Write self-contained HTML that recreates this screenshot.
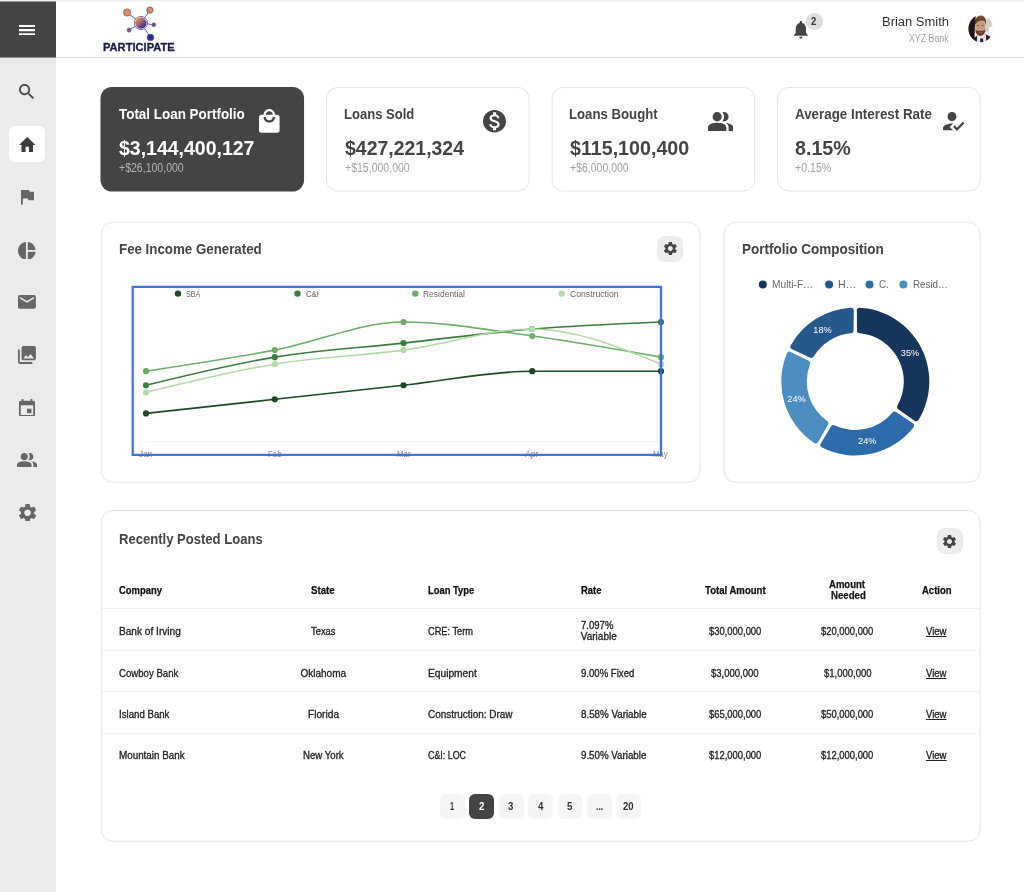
<!DOCTYPE html>
<html lang="en">
<head>
<meta charset="utf-8">
<title>Participate – Dashboard</title>
<style>
*{box-sizing:border-box;margin:0;padding:0}
html,body{width:1024px;height:892px;overflow:hidden;background:#fff}
body{position:relative;font-family:"Liberation Sans",sans-serif;color:#222}
#app{position:absolute;left:0;top:0;width:1024px;height:892px;will-change:transform}
.abs{position:absolute}
.t{position:absolute;white-space:pre;line-height:20px;transform-origin:0 0;font-family:"Liberation Sans",sans-serif}
.topstrip{position:absolute;left:0;top:0;width:1024px;height:1px;background:#eeeff1}
.topstrip.b{top:1px;opacity:.5}
.sidebar{position:absolute;left:0;top:0;width:56px;height:892px;background:#ebebeb}
.burger{position:absolute;left:0;top:0;width:56px;height:57px;background:#444}
.burger:after{content:"";position:absolute;left:0;top:57px;width:56px;height:1px;background:#444;opacity:.55}
.navactive{position:absolute;left:9.2px;top:126px;width:36.2px;height:36.2px;border-radius:6px;background:#fff}
.header{position:absolute;left:56px;top:2px;width:968px;height:56px;background:#fff;border-bottom:1px solid #e4e4e4}
.card{position:absolute;border-radius:12px}
.stat{top:87px;width:204px;height:104.5px;border-radius:11px}
.gearbtn{position:absolute;width:26px;height:26px;border-radius:8px;background:#ececec}
.hr{position:absolute;left:102px;width:878px;height:1px;background:#efefef}
.pg{position:absolute;top:794px;width:24.8px;height:25.4px;border-radius:6px;background:#f5f5f5}
.pg.on{background:#444}
</style>
</head>
<body>
<div id="app">
<!-- ============ sidebar ============ -->
<aside class="sidebar">
  <div class="burger"></div>
  <div class="navactive"></div>
  <svg class="abs ic" style="left:19.40px;top:24.75px;fill:#fff" width="16.00" height="10.25" viewBox="3.000 6.000 18.000 12.000" preserveAspectRatio="none"><path d="M3 6h18v2.400H3zM3 10.800h18v2.400H3zM3 15.600h18v2.400H3z"/></svg>
  <svg class="abs ic" style="left:19.40px;top:84.00px;fill:#444" width="15.00" height="15.00" viewBox="3.000 3.000 17.490 17.490" preserveAspectRatio="none"><path d="M15.5 14h-.79l-.28-.27C15.41 12.59 16 11.11 16 9.5 16 5.91 13.09 3 9.5 3S3 5.91 3 9.5 5.91 16 9.5 16c1.61 0 3.09-.59 4.23-1.57l.27.28v.79l5 4.99L20.49 19l-4.99-5zm-6 0C7.01 14 5 11.99 5 9.5S7.01 5 9.5 5 14 7.01 14 9.5 11.99 14 9.5 14z"/></svg>
  <svg class="abs ic" style="left:18.80px;top:136.90px;fill:#3c3c3c" width="16.50" height="15.10" viewBox="2.000 3.000 20.000 17.000" preserveAspectRatio="none"><path d="M10 20v-6h4v6h5v-8h3L12 3 2 12h3v8z"/></svg>
  <svg class="abs ic" style="left:20.60px;top:190.20px;fill:#666" width="13.70" height="14.60" viewBox="5.000 4.000 15.000 17.000" preserveAspectRatio="none"><path d="M14.4 6L14 4H5v17h2v-7h5.6l.4 2h7V6z"/></svg>
  <svg class="abs ic" style="left:18.10px;top:241.60px;fill:#666" width="17.70" height="17.70" viewBox="2.000 2.000 20.000 20.000" preserveAspectRatio="none"><path d="M11 2v20c-5.07-.5-9-4.79-9-10s3.93-9.5 9-10zm2.03 0v8.990H22c-.47-4.740-4.240-8.520-8.970-8.990zm0 11.010V22c4.740-.47 8.500-4.250 8.970-8.990h-8.970z"/></svg>
  <svg class="abs ic" style="left:18.10px;top:295.20px;fill:#666" width="17.90" height="13.80" viewBox="2.000 4.000 20.000 16.000" preserveAspectRatio="none"><path d="M20 4H4c-1.1 0-1.99.9-1.99 2L2 18c0 1.1.9 2 2 2h16c1.1 0 2-.9 2-2V6c0-1.1-.9-2-2-2zm0 4l-8 5-8-5V6l8 5 8-5v2z"/></svg>
  <svg class="abs ic" style="left:18.10px;top:345.90px;fill:#666" width="17.90" height="17.90" viewBox="2.000 2.000 20.000 20.000" preserveAspectRatio="none"><path d="M22 16V4c0-1.1-.9-2-2-2H8c-1.1 0-2 .9-2 2v12c0 1.1.9 2 2 2h12c1.1 0 2-.9 2-2zm-11-4l2.030 2.710L16 11l4 5H8l3-4zM2 6v14c0 1.1.9 2 2 2h14v-2H4V6H2z"/></svg>
  <svg class="abs ic" style="left:19.10px;top:398.60px;fill:#666" width="16.00" height="17.70" viewBox="3.000 1.000 18.000 20.000" preserveAspectRatio="none"><path d="M17 12h-5v5h5v-5zM16 1v2H8V1H6v2H5c-1.110 0-1.990.9-1.990 2L3 19c0 1.100.89 2 2 2h14c1.100 0 2-.9 2-2V5c0-1.100-.9-2-2-2h-1V1h-2zm3 18H5V8h14v11z"/></svg>
  <svg class="abs ic" style="left:17.10px;top:452.60px;fill:#666" width="20.00" height="14.50" viewBox="40.000 -800.000 880.000 640.000" preserveAspectRatio="none"><path d="M40-160v-112q0-34 17.500-62.500T104-378q62-31 126-46.500T360-440q66 0 130 15.500T616-378q29 15 46.500 43.500T680-272v112H40Zm720 0v-120q0-44-24.500-84.500T666-434q51 6 96 20.500t84 35.500q36 20 55 44.500t19 53.500v120H760ZM360-480q-66 0-113-47t-47-113q0-66 47-113t113-47q66 0 113 47t47 113q0 66-47 113t-113 47Zm400-160q0 66-47 113t-113 47q-11 0-28-2.500t-28-5.500q27-32 41.500-71t14.500-81q0-42-14.500-81T544-792q14-5 28-6.500t28-1.500q66 0 113 47t47 113Z"/></svg>
  <svg class="abs ic" style="left:18.90px;top:503.60px;fill:#666" width="17.20" height="17.70" viewBox="2.662 2.400 18.676 19.200" preserveAspectRatio="none"><path d="M19.14 12.94c.04-.3.06-.61.06-.94 0-.32-.02-.64-.07-.94l2.030-1.580c.18-.14.23-.41.12-.61l-1.920-3.320c-.12-.22-.37-.29-.59-.22l-2.390.96c-.5-.38-1.030-.7-1.620-.94l-.36-2.540c-.04-.24-.24-.41-.48-.41h-3.840c-.24 0-.43.17-.47.41l-.36 2.540c-.59.24-1.130.57-1.620.94l-2.390-.96c-.22-.08-.47 0-.59.22L2.740 8.870c-.12.21-.08.47.12.61l2.030 1.580c-.05.3-.09.63-.09.94s.02.64.07.94l-2.030 1.580c-.18.14-.23.41-.12.61l1.920 3.320c.12.22.37.29.59.22l2.390-.96c.5.38 1.030.7 1.620.94l.36 2.540c.05.24.24.41.48.41h3.840c.24 0 .44-.17.47-.41l.36-2.540c.59-.24 1.130-.56 1.620-.94l2.390.96c.22.08.47 0 .59-.22l1.920-3.320c.12-.22.07-.47-.12-.61l-2.010-1.580zM12 15.600c-1.980 0-3.600-1.620-3.600-3.600s1.620-3.600 3.600-3.600 3.600 1.620 3.600 3.600-1.620 3.600-3.600 3.600z"/></svg>
</aside>
<div class="topstrip"></div><div class="topstrip b"></div>

<!-- ============ header ============ -->
<header class="header"></header>
<svg class="abs" style="left:120px;top:4px" width="40" height="40" viewBox="120 4 40 40">
  <defs>
    <linearGradient id="lg1" x1="0.15" y1="0.1" x2="0.85" y2="0.9"><stop offset="0" stop-color="#e39452"/><stop offset=".45" stop-color="#a5617a"/><stop offset="1" stop-color="#23238c"/></linearGradient>
  </defs>
  <g stroke="#3b3a78" stroke-width=".8" fill="none">
    <line x1="140.900" y1="23" x2="127.100" y2="12.500"/><line x1="140.900" y1="23" x2="149.900" y2="10.100"/>
    <line x1="140.900" y1="23" x2="153.750" y2="24.750"/><line x1="140.900" y1="23" x2="129.100" y2="30.100"/>
    <line x1="140.900" y1="23" x2="150.500" y2="37.500"/>
  </g>
  <circle cx="140.900" cy="23" r="6.600" fill="#fff" stroke="#3b3a78" stroke-width=".7"/>
  <circle cx="140.900" cy="23" r="5.700" fill="url(#lg1)"/>
  <circle cx="127.100" cy="12.500" r="3.600" fill="#dc8f58" stroke="#55508a" stroke-width=".7"/>
  <circle cx="149.900" cy="10.100" r="3.200" fill="#d98c5e" stroke="#55508a" stroke-width=".7"/>
  <circle cx="153.750" cy="24.750" r="2.100" fill="#6f4e7c" stroke="#7b74a6" stroke-width=".6"/>
  <circle cx="129.100" cy="30.100" r="2.200" fill="#7d5873" stroke="#7b74a6" stroke-width=".6"/>
  <circle cx="150.500" cy="37.550" r="3.300" fill="#2c2b90" stroke="#4d4b9a" stroke-width=".7"/>
</svg>
<div class="abs" style="left:806px;top:13.200px;width:16.600px;height:16.600px;border-radius:50%;background:#dedede"></div>
<span class="t" style="left:103.00px;top:38px;font-size:10.3px;font-weight:700;color:#1c1d4f;transform:scaleX(1.0799);-webkit-text-stroke:.3px;">PARTICIPATE</span>
<span class="t" style="left:881.85px;top:12px;font-size:13.6px;font-weight:400;color:#333;transform:scaleX(0.9534);">Brian Smith</span>
<span class="t" style="left:908.50px;top:29px;font-size:10.4px;font-weight:400;color:#a6a6a6;transform:scaleX(0.8469);">XYZ Bank</span>
<span class="t" style="left:811.30px;top:12px;font-size:10.2px;font-weight:700;color:#333;transform:scaleX(0.9333);">2</span>
<svg class="abs ic" style="left:794.25px;top:21.25px;fill:#444" width="13.75" height="17.50" viewBox="4.000 2.500 16.000 19.500" preserveAspectRatio="none"><path d="M12 22c1.1 0 2-.9 2-2h-4c0 1.1.89 2 2 2zm6-6v-5c0-3.070-1.640-5.640-4.500-6.320V4c0-.83-.67-1.500-1.500-1.500s-1.500.67-1.500 1.500v.68C7.630 5.360 6 7.920 6 11v5l-2 2v1h16v-1l-2-2z"/></svg>
<svg class="abs" style="left:966px;top:13px" width="30" height="32" viewBox="966 13 30 32">
  <defs>
    <clipPath id="av"><ellipse cx="980.7" cy="28.65" rx="12.3" ry="13.65"/></clipPath>
    <filter id="avb" x="-10%" y="-10%" width="120%" height="120%"><feGaussianBlur stdDeviation=".45"/></filter>
    <linearGradient id="avbg" x1="0" y1="0" x2="1" y2="1"><stop offset="0" stop-color="#d9d6d2"/><stop offset=".55" stop-color="#cfccc7"/><stop offset="1" stop-color="#f6f6f5"/></linearGradient>
    <linearGradient id="avh" x1="0" y1="0" x2="0" y2="1"><stop offset="0" stop-color="#7b5335"/><stop offset="1" stop-color="#4a2c1b"/></linearGradient>
  </defs>
  <g clip-path="url(#av)"><g filter="url(#avb)">
    <rect x="964" y="11" width="34" height="36" fill="#f1f0ef"/>
    <rect x="985" y="19" width="7" height="13" fill="url(#avbg)"/>
    <rect x="989" y="27" width="8" height="12" fill="#fafafa"/>
    <path d="M964 11H976.2L975 24 974.6 36 976.5 46H964Z" fill="#1c1315"/>
    <path d="M970.5 46 L972 39.500 L977.300 35.500 L986 34.500 L991.500 37.200 L992 46Z" fill="#38161f"/>
    <path d="M976.900 46 L977 36.200 L980 33.500 L986 34.800 L986.300 46Z" fill="#e4e1ea"/>
    <path d="M980.300 38.400 L983 38.400 L983.600 46 L979.900 46Z" fill="#1c213f"/>
    <ellipse cx="980.300" cy="26.600" rx="5.100" ry="7.300" fill="#cb9a7d"/>
    <path d="M975.300 28.500 Q975.200 35.700 980.300 35.900 Q985.300 35.700 985.400 28.500 Q984.500 31.300 982.300 30.700 L978.300 30.700 Q976.100 31.300 975.300 28.500Z" fill="#6c3e28"/>
    <path d="M978.600 31.900 Q980.300 32.900 982 31.900 Q980.300 32.300 978.600 31.900Z" fill="#b77d68"/>
    <ellipse cx="978.100" cy="25.500" rx="1.100" ry=".55" fill="#6b4a3c"/><ellipse cx="982.700" cy="25.500" rx="1.100" ry=".55" fill="#6b4a3c"/>
    <path d="M974.800 25.500 Q973.800 17 979.800 15.400 Q987 15 986 25.300 Q985.300 21 982.800 20.600 Q977.300 20 974.800 25.500Z" fill="url(#avh)"/>
  </g></g>
</svg>

<!-- ============ card surfaces ============ -->
<svg class="abs" style="left:0;top:0" width="1024" height="892" viewBox="0 0 1024 892" fill="#fff" stroke="#e4e4e4" stroke-width="1">
  <rect x="100.5" y="87" width="203.56" height="104.5" rx="11.5" fill="#444" stroke="none"/>
  <rect x="326.56" y="87.5" width="202.56" height="103.5" rx="11"/>
  <rect x="552.12" y="87.5" width="202.56" height="103.5" rx="11"/>
  <rect x="777.68" y="87.5" width="202.56" height="103.5" rx="11"/>
  <rect x="101.2" y="222.3" width="598.7" height="259.9" rx="11.5"/>
  <rect x="724" y="222.3" width="256.2" height="259.9" rx="11.5"/>
  <rect x="101.2" y="510.5" width="879" height="330.7" rx="11.5"/>
</svg>

<!-- ============ stat cards ============ -->
<div class="card stat dark" style="left:100.500px"></div>
<div class="card stat" style="left:326.250px"></div>
<div class="card stat" style="left:551.750px"></div>
<div class="card stat" style="left:777px"></div>
<svg class="abs ic" style="left:259.00px;top:109.25px;fill:#fff" width="20.60" height="23.75" viewBox="3.000 1.000 18.000 21.000" preserveAspectRatio="none"><path d="M19 6h-2c0-2.760-2.240-5-5-5S7 3.240 7 6H5c-1.100 0-1.990.9-1.990 2L3 20c0 1.100.9 2 2 2h14c1.100 0 2-.9 2-2V8c0-1.100-.9-2-2-2zm-7-3c1.660 0 3 1.340 3 3H9c0-1.660 1.340-3 3-3zm0 10c-2.760 0-5-2.240-5-5h2c0 1.660 1.340 3 3 3s3-1.340 3-3h2c0 2.760-2.240 5-5 5z"/></svg>
<svg class="abs ic" style="left:483.25px;top:110.00px;fill:#444" width="23.00" height="22.50" viewBox="2.000 2.000 20.000 20.000" preserveAspectRatio="none"><path d="M12 2C6.480 2 2 6.480 2 12s4.480 10 10 10 10-4.480 10-10S17.520 2 12 2zm1.410 16.090V20h-2.670v-1.930c-1.710-.36-3.160-1.460-3.270-3.400h1.960c.1 1.050.82 1.870 2.650 1.870 1.960 0 2.400-.98 2.400-1.590 0-.83-.44-1.610-2.670-2.140-2.480-.6-4.180-1.620-4.180-3.670 0-1.720 1.390-2.840 3.110-3.210V4h2.670v1.950c1.860.45 2.790 1.860 2.850 3.390H14.300c-.05-1.110-.64-1.870-2.220-1.870-1.500 0-2.400.68-2.400 1.640 0 .84.650 1.390 2.670 1.910s4.180 1.390 4.180 3.910c-.01 1.830-1.380 2.830-3.120 3.160z"/></svg>
<svg class="abs ic" style="left:707.80px;top:111.90px;fill:#444" width="25.20" height="18.90" viewBox="40.000 -800.000 880.000 640.000" preserveAspectRatio="none"><path d="M40-160v-112q0-34 17.500-62.500T104-378q62-31 126-46.500T360-440q66 0 130 15.500T616-378q29 15 46.500 43.500T680-272v112H40Zm720 0v-120q0-44-24.500-84.500T666-434q51 6 96 20.500t84 35.500q36 20 55 44.500t19 53.500v120H760ZM360-480q-66 0-113-47t-47-113q0-66 47-113t113-47q66 0 113 47t47 113q0 66-47 113t-113 47Zm400-160q0 66-47 113t-113 47q-11 0-28-2.500t-28-5.500q27-32 41.500-71t14.500-81q0-42-14.500-81T544-792q14-5 28-6.500t28-1.500q66 0 113 47t47 113Z"/></svg>
<svg class="abs ic" style="left:942.90px;top:112.00px;fill:#444" width="21.30" height="18.90" viewBox="3.000 4.000 19.000 16.500" preserveAspectRatio="none"><path d="M9 17l3-2.940c-.39-.04-.68-.06-1-.06-2.670 0-8 1.340-8 4v2h9l-3-3zm2-5c2.210 0 4-1.790 4-4s-1.790-4-4-4-4 1.790-4 4 1.790 4 4 4M15.470 20.500L12 17l1.400-1.410 2.070 2.080 5.130-5.170 1.400 1.410z"/></svg>
<span class="t" style="left:119.10px;top:104px;font-size:15.2px;font-weight:700;color:#fff;transform:scaleX(0.8837);">Total Loan Portfolio</span>
<span class="t" style="left:119.40px;top:138px;font-size:20.6px;font-weight:700;color:#fff;transform:scaleX(0.9461);">$3,144,400,127</span>
<span class="t" style="left:118.80px;top:158px;font-size:12.0px;font-weight:400;color:#b4b4b4;transform:scaleX(0.8776);">+$26,100,000</span>
<span class="t" style="left:343.94px;top:104px;font-size:15.2px;font-weight:700;color:#444;transform:scaleX(0.8595);">Loans Sold</span>
<span class="t" style="left:344.80px;top:138px;font-size:20.6px;font-weight:700;color:#444;transform:scaleX(0.9445);">$427,221,324</span>
<span class="t" style="left:344.60px;top:158px;font-size:12.0px;font-weight:400;color:#a2a2a2;transform:scaleX(0.8776);">+$15,000,000</span>
<span class="t" style="left:569.33px;top:104px;font-size:15.2px;font-weight:700;color:#444;transform:scaleX(0.8686);">Loans Bought</span>
<span class="t" style="left:570.20px;top:138px;font-size:20.6px;font-weight:700;color:#444;transform:scaleX(0.9547);">$115,100,400</span>
<span class="t" style="left:570.00px;top:158px;font-size:12.0px;font-weight:400;color:#a2a2a2;transform:scaleX(0.8755);">+$6,000,000</span>
<span class="t" style="left:795.10px;top:104px;font-size:15.2px;font-weight:700;color:#444;transform:scaleX(0.8798);">Average Interest Rate</span>
<span class="t" style="left:795.10px;top:138px;font-size:20.6px;font-weight:700;color:#444;transform:scaleX(0.9556);">8.15%</span>
<span class="t" style="left:795.30px;top:158px;font-size:12.0px;font-weight:400;color:#a2a2a2;transform:scaleX(0.8824);">+0.15%</span>

<!-- ============ fee income ============ -->
<div class="card" style="left:100.500px;top:222px;width:600px;height:260.500px"></div>
<div class="gearbtn" style="left:657px;top:236px"></div>
<svg class="abs ic" style="left:663.75px;top:242.20px;fill:#444" width="12.75" height="13.10" viewBox="2.662 2.400 18.676 19.200" preserveAspectRatio="none"><path d="M19.14 12.94c.04-.3.06-.61.06-.94 0-.32-.02-.64-.07-.94l2.030-1.580c.18-.14.23-.41.12-.61l-1.920-3.320c-.12-.22-.37-.29-.59-.22l-2.390.96c-.5-.38-1.030-.7-1.620-.94l-.36-2.540c-.04-.24-.24-.41-.48-.41h-3.840c-.24 0-.43.17-.47.41l-.36 2.540c-.59.24-1.130.57-1.620.94l-2.390-.96c-.22-.08-.47 0-.59.22L2.740 8.870c-.12.21-.08.47.12.61l2.030 1.580c-.05.3-.09.63-.09.94s.02.64.07.94l-2.030 1.580c-.18.14-.23.41-.12.61l1.920 3.320c.12.22.37.29.59.22l2.390-.96c.5.38 1.030.7 1.620.94l.36 2.540c.05.24.24.41.48.41h3.840c.24 0 .44-.17.47-.41l.36-2.540c.59-.24 1.130-.56 1.620-.94l2.390.96c.22.08.47 0 .59-.22l1.920-3.320c.12-.22.07-.47-.12-.61l-2.010-1.580zM12 15.600c-1.980 0-3.600-1.620-3.600-3.600s1.620-3.600 3.600-3.600 3.600 1.620 3.600 3.600-1.620 3.600-3.600 3.600z"/></svg>
<span class="t" style="left:119.12px;top:239px;font-size:15.2px;font-weight:700;color:#444;transform:scaleX(0.8761);">Fee Income Generated</span>
<span class="t" style="left:186.05px;top:284px;font-size:9.2px;font-weight:400;color:#666;transform:scaleX(0.7660);">SBA</span>
<span class="t" style="left:305.55px;top:284px;font-size:9.2px;font-weight:400;color:#666;transform:scaleX(0.8467);">C&amp;I</span>
<span class="t" style="left:423.20px;top:284px;font-size:9.2px;font-weight:400;color:#666;transform:scaleX(0.9227);">Residential</span>
<span class="t" style="left:569.80px;top:284px;font-size:9.2px;font-weight:400;color:#666;transform:scaleX(0.9404);">Construction</span>
<span class="t" style="left:139.05px;top:444px;font-size:9.0px;font-weight:400;color:#848484;transform:scaleX(0.9307);">Jan</span>
<span class="t" style="left:267.80px;top:444px;font-size:9.0px;font-weight:400;color:#848484;transform:scaleX(0.8708);">Feb</span>
<span class="t" style="left:396.55px;top:444px;font-size:9.0px;font-weight:400;color:#848484;transform:scaleX(0.8708);">Mar</span>
<span class="t" style="left:525.30px;top:444px;font-size:9.0px;font-weight:400;color:#848484;transform:scaleX(0.9637);">Apr</span>
<span class="t" style="left:653.30px;top:444px;font-size:9.0px;font-weight:400;color:#848484;transform:scaleX(0.8570);">May</span>
<svg class="abs" style="left:0;top:0" width="1024" height="892" viewBox="0 0 1024 892">
<line x1="146" y1="441.5" x2="661" y2="441.5" stroke="#f0f0f0" stroke-width="1"/>
<path d="M146.00 413.38C188.92 408.69 231.83 404.01 274.75 399.32C317.67 394.63 360.58 389.95 403.50 385.26C446.42 380.57 489.33 371.20 532.25 371.20C575.17 371.20 618.08 371.20 661.00 371.20" fill="none" stroke="#1c4a22" stroke-width="1.6"/>
<path d="M146.00 385.26C188.92 374.71 231.83 364.17 274.75 357.14C317.67 350.11 360.58 347.77 403.50 343.08C446.42 338.39 489.33 332.53 532.25 329.02C575.17 325.50 618.08 323.75 661.00 321.99" fill="none" stroke="#3b7c40" stroke-width="1.6"/>
<path d="M146.00 371.20C188.92 364.76 231.83 358.31 274.75 350.11C317.67 341.91 360.58 321.99 403.50 321.99C446.42 321.99 489.33 330.19 532.25 336.05C575.17 341.91 618.08 349.52 661.00 357.14" fill="none" stroke="#6dae68" stroke-width="1.6"/>
<path d="M146.00 392.29C188.92 381.75 231.83 371.20 274.75 364.17C317.67 357.14 360.58 355.97 403.50 350.11C446.42 344.25 489.33 329.02 532.25 329.02C575.17 329.02 618.08 346.60 661.00 364.17" fill="none" stroke="#b2dba8" stroke-width="1.6"/>
<circle cx="146.00" cy="413.38" r="3.1" fill="#1c4a22"/>
<circle cx="274.75" cy="399.32" r="3.1" fill="#1c4a22"/>
<circle cx="403.50" cy="385.26" r="3.1" fill="#1c4a22"/>
<circle cx="532.25" cy="371.20" r="3.1" fill="#1c4a22"/>
<circle cx="661.00" cy="371.20" r="3.1" fill="#1c4a22"/>
<circle cx="178.00" cy="293.6" r="3.2" fill="#1c4a22"/>
<circle cx="146.00" cy="385.26" r="3.1" fill="#3b7c40"/>
<circle cx="274.75" cy="357.14" r="3.1" fill="#3b7c40"/>
<circle cx="403.50" cy="343.08" r="3.1" fill="#3b7c40"/>
<circle cx="532.25" cy="329.02" r="3.1" fill="#3b7c40"/>
<circle cx="661.00" cy="321.99" r="3.1" fill="#3b7c40"/>
<circle cx="297.50" cy="293.6" r="3.2" fill="#3b7c40"/>
<circle cx="146.00" cy="371.20" r="3.1" fill="#6dae68"/>
<circle cx="274.75" cy="350.11" r="3.1" fill="#6dae68"/>
<circle cx="403.50" cy="321.99" r="3.1" fill="#6dae68"/>
<circle cx="532.25" cy="336.05" r="3.1" fill="#6dae68"/>
<circle cx="661.00" cy="357.14" r="3.1" fill="#6dae68"/>
<circle cx="415.30" cy="293.6" r="3.2" fill="#6dae68"/>
<circle cx="146.00" cy="392.29" r="3.1" fill="#b2dba8"/>
<circle cx="274.75" cy="364.17" r="3.1" fill="#b2dba8"/>
<circle cx="403.50" cy="350.11" r="3.1" fill="#b2dba8"/>
<circle cx="532.25" cy="329.02" r="3.1" fill="#b2dba8"/>
<circle cx="661.00" cy="364.17" r="3.1" fill="#b2dba8"/>
<circle cx="561.60" cy="293.6" r="3.2" fill="#b2dba8"/>
</svg>
<svg class="abs" style="left:0;top:0" width="1024" height="892" viewBox="0 0 1024 892"><rect x="132.7" y="286.9" width="528.3" height="168" fill="none" stroke="#2e6ce6" stroke-opacity=".94" stroke-width="2.25"/></svg>

<!-- ============ portfolio composition ============ -->
<div class="card" style="left:723.500px;top:222px;width:257.500px;height:260.500px"></div>
<span class="t" style="left:742.11px;top:239px;font-size:15.2px;font-weight:700;color:#444;transform:scaleX(0.8896);">Portfolio Composition</span>
<span class="t" style="left:772.20px;top:275px;font-size:10.3px;font-weight:400;color:#666;transform:scaleX(0.9887);">Multi-F…</span>
<span class="t" style="left:838.10px;top:275px;font-size:10.3px;font-weight:400;color:#666;transform:scaleX(1.0343);">H…</span>
<span class="t" style="left:878.50px;top:275px;font-size:10.3px;font-weight:400;color:#666;transform:scaleX(0.9538);">C.</span>
<span class="t" style="left:912.50px;top:275px;font-size:10.3px;font-weight:400;color:#666;transform:scaleX(0.9512);">Resid…</span>
<svg class="abs" style="left:0;top:0" width="1024" height="892" viewBox="0 0 1024 892" font-family="Liberation Sans, sans-serif">
<path d="M859.90 307.64A74.00 74.00 0 0 1 918.60 419.82Q917.00 422.36 914.50 420.70L898.56 409.44Q896.04 407.82 897.59 405.25A48.50 48.50 0 0 0 859.89 333.22Q856.90 333.03 857.00 330.03L856.84 310.52Q856.90 307.52 859.90 307.64Z" fill="#16355b"/>
<text x="910.07" y="356.10" fill="#fff" font-size="9.6" text-anchor="middle" textLength="18.4" lengthAdjust="spacingAndGlyphs">35%</text>
<path d="M913.36 427.38A74.00 74.00 0 0 1 822.01 447.59Q819.36 446.19 820.82 443.56L830.80 426.80Q832.23 424.16 834.91 425.51A48.50 48.50 0 0 0 892.35 412.80Q894.21 410.45 896.62 412.24L912.75 423.22Q915.17 424.99 913.36 427.38Z" fill="#2e6bab"/>
<text x="867.23" y="444.30" fill="#fff" font-size="9.6" text-anchor="middle" textLength="18.4" lengthAdjust="spacingAndGlyphs">24%</text>
<path d="M814.07 442.95A74.00 74.00 0 0 1 786.82 353.44Q788.02 350.69 790.75 351.94L808.23 360.59Q810.98 361.81 809.84 364.59A48.50 48.50 0 0 0 826.98 420.87Q829.46 422.55 827.87 425.08L818.16 442.01Q816.60 444.57 814.07 442.95Z" fill="#4d8ec1"/>
<text x="796.50" y="401.64" fill="#fff" font-size="9.6" text-anchor="middle" textLength="18.4" lengthAdjust="spacingAndGlyphs">24%</text>
<path d="M790.83 345.17A74.00 74.00 0 0 1 850.70 307.64Q853.70 307.52 853.76 310.52L853.60 330.03Q853.70 333.03 850.71 333.22A48.50 48.50 0 0 0 813.85 356.32Q812.37 358.93 809.72 357.54L792.08 349.18Q789.41 347.81 790.83 345.17Z" fill="#26588c"/>
<text x="822.47" y="332.60" fill="#fff" font-size="9.6" text-anchor="middle" textLength="18.4" lengthAdjust="spacingAndGlyphs">18%</text>
<circle cx="762.80" cy="284.4" r="4" fill="#16355b"/>
<circle cx="829.10" cy="284.4" r="4" fill="#26588c"/>
<circle cx="869.50" cy="284.4" r="4" fill="#2e6bab"/>
<circle cx="903.40" cy="284.4" r="4" fill="#4d8ec1"/>
</svg>

<!-- ============ table ============ -->
<div class="card" style="left:100.500px;top:510px;width:880.500px;height:331.500px"></div>
<div class="gearbtn" style="left:937px;top:528px"></div>
<svg class="abs ic" style="left:943.00px;top:534.50px;fill:#444" width="13.00" height="13.00" viewBox="2.662 2.400 18.676 19.200" preserveAspectRatio="none"><path d="M19.14 12.94c.04-.3.06-.61.06-.94 0-.32-.02-.64-.07-.94l2.030-1.580c.18-.14.23-.41.12-.61l-1.920-3.320c-.12-.22-.37-.29-.59-.22l-2.390.96c-.5-.38-1.030-.7-1.620-.94l-.36-2.540c-.04-.24-.24-.41-.48-.41h-3.840c-.24 0-.43.17-.47.41l-.36 2.540c-.59.24-1.130.57-1.620.94l-2.390-.96c-.22-.08-.47 0-.59.22L2.740 8.870c-.12.21-.08.47.12.61l2.030 1.580c-.05.3-.09.63-.09.94s.02.64.07.94l-2.030 1.580c-.18.14-.23.41-.12.61l1.920 3.320c.12.22.37.29.59.22l2.390-.96c.5.38 1.030.7 1.620.94l.36 2.540c.05.24.24.41.48.41h3.840c.24 0 .44-.17.47-.41l.36-2.540c.59-.24 1.130-.56 1.620-.94l2.390.96c.22.08.47 0 .59-.22l1.920-3.320c.12-.22.07-.47-.12-.61l-2.010-1.580zM12 15.600c-1.980 0-3.600-1.620-3.600-3.600s1.620-3.600 3.600-3.600 3.600 1.620 3.600 3.600-1.620 3.600-3.600 3.600z"/></svg>
<div class="hr" style="top:608px"></div>
<div class="hr" style="top:650px"></div>
<div class="hr" style="top:691px"></div>
<div class="hr" style="top:733px"></div>
<span class="t" style="left:119.14px;top:529px;font-size:15.2px;font-weight:700;color:#444;transform:scaleX(0.8596);">Recently Posted Loans</span>
<span class="t" style="left:119.30px;top:581px;font-size:10.3px;font-weight:700;color:#111;transform:scaleX(0.9166);-webkit-text-stroke:.25px;">Company</span>
<span class="t" style="left:311.40px;top:581px;font-size:10.3px;font-weight:700;color:#111;transform:scaleX(0.9429);-webkit-text-stroke:.25px;">State</span>
<span class="t" style="left:428.05px;top:581px;font-size:10.3px;font-weight:700;color:#111;transform:scaleX(0.9118);-webkit-text-stroke:.25px;">Loan Type</span>
<span class="t" style="left:580.80px;top:581px;font-size:10.3px;font-weight:700;color:#111;transform:scaleX(0.9185);-webkit-text-stroke:.25px;">Rate</span>
<span class="t" style="left:704.75px;top:581px;font-size:10.3px;font-weight:700;color:#111;transform:scaleX(0.9297);-webkit-text-stroke:.25px;">Total Amount</span>
<span class="t" style="left:829.45px;top:575px;font-size:10.3px;font-weight:700;color:#111;transform:scaleX(0.9250);-webkit-text-stroke:.25px;">Amount</span>
<span class="t" style="left:830.65px;top:586px;font-size:10.3px;font-weight:700;color:#111;transform:scaleX(0.9348);-webkit-text-stroke:.25px;">Needed</span>
<span class="t" style="left:921.77px;top:581px;font-size:10.3px;font-weight:700;color:#111;transform:scaleX(0.9215);-webkit-text-stroke:.25px;">Action</span>
<span class="t" style="left:119.30px;top:622px;font-size:10.0px;font-weight:400;color:#222;transform:scaleX(1.0110);-webkit-text-stroke:.3px;">Bank of Irving</span>
<span class="t" style="left:311.25px;top:622px;font-size:10.0px;font-weight:400;color:#222;transform:scaleX(0.9379);-webkit-text-stroke:.3px;">Texas</span>
<span class="t" style="left:428.05px;top:622px;font-size:10.0px;font-weight:400;color:#222;transform:scaleX(0.9215);-webkit-text-stroke:.3px;">CRE: Term</span>
<span class="t" style="left:580.80px;top:616px;font-size:10.0px;font-weight:400;color:#222;transform:scaleX(0.9552);-webkit-text-stroke:.3px;">7.097%</span>
<span class="t" style="left:580.80px;top:627px;font-size:10.0px;font-weight:400;color:#222;-webkit-text-stroke:.3px;">Variable</span>
<span class="t" style="left:709.02px;top:622px;font-size:10.0px;font-weight:400;color:#222;transform:scaleX(0.9411);-webkit-text-stroke:.3px;">$30,000,000</span>
<span class="t" style="left:821.42px;top:622px;font-size:10.0px;font-weight:400;color:#222;transform:scaleX(0.9411);-webkit-text-stroke:.3px;">$20,000,000</span>
<span class="t" style="left:925.77px;top:622px;font-size:10.0px;font-weight:400;color:#222;transform:scaleX(0.9541);-webkit-text-stroke:.3px;text-decoration:underline;text-underline-offset:1px;">View</span>
<span class="t" style="left:119.30px;top:664px;font-size:10.0px;font-weight:400;color:#222;transform:scaleX(0.9617);-webkit-text-stroke:.3px;">Cowboy Bank</span>
<span class="t" style="left:300.50px;top:664px;font-size:10.0px;font-weight:400;color:#222;-webkit-text-stroke:.3px;">Oklahoma</span>
<span class="t" style="left:428.05px;top:664px;font-size:10.0px;font-weight:400;color:#222;transform:scaleX(1.0202);-webkit-text-stroke:.3px;">Equipment</span>
<span class="t" style="left:580.80px;top:664px;font-size:10.0px;font-weight:400;color:#222;transform:scaleX(0.9587);-webkit-text-stroke:.3px;">9.00% Fixed</span>
<span class="t" style="left:711.40px;top:664px;font-size:10.0px;font-weight:400;color:#222;transform:scaleX(0.9507);-webkit-text-stroke:.3px;">$3,000,000</span>
<span class="t" style="left:823.80px;top:664px;font-size:10.0px;font-weight:400;color:#222;transform:scaleX(0.9507);-webkit-text-stroke:.3px;">$1,000,000</span>
<span class="t" style="left:925.77px;top:664px;font-size:10.0px;font-weight:400;color:#222;transform:scaleX(0.9541);-webkit-text-stroke:.3px;text-decoration:underline;text-underline-offset:1px;">View</span>
<span class="t" style="left:119.30px;top:705px;font-size:10.0px;font-weight:400;color:#222;transform:scaleX(0.9652);-webkit-text-stroke:.3px;">Island Bank</span>
<span class="t" style="left:307.75px;top:705px;font-size:10.0px;font-weight:400;color:#222;transform:scaleX(1.0160);-webkit-text-stroke:.3px;">Florida</span>
<span class="t" style="left:428.05px;top:705px;font-size:10.0px;font-weight:400;color:#222;transform:scaleX(0.9935);-webkit-text-stroke:.3px;">Construction: Draw</span>
<span class="t" style="left:580.80px;top:705px;font-size:10.0px;font-weight:400;color:#222;transform:scaleX(0.9775);-webkit-text-stroke:.3px;">8.58% Variable</span>
<span class="t" style="left:709.02px;top:705px;font-size:10.0px;font-weight:400;color:#222;transform:scaleX(0.9411);-webkit-text-stroke:.3px;">$65,000,000</span>
<span class="t" style="left:821.42px;top:705px;font-size:10.0px;font-weight:400;color:#222;transform:scaleX(0.9411);-webkit-text-stroke:.3px;">$50,000,000</span>
<span class="t" style="left:925.77px;top:705px;font-size:10.0px;font-weight:400;color:#222;transform:scaleX(0.9541);-webkit-text-stroke:.3px;text-decoration:underline;text-underline-offset:1px;">View</span>
<span class="t" style="left:119.30px;top:746px;font-size:10.0px;font-weight:400;color:#222;transform:scaleX(0.9836);-webkit-text-stroke:.3px;">Mountain Bank</span>
<span class="t" style="left:302.60px;top:746px;font-size:10.0px;font-weight:400;color:#222;transform:scaleX(0.9625);-webkit-text-stroke:.3px;">New York</span>
<span class="t" style="left:428.05px;top:746px;font-size:10.0px;font-weight:400;color:#222;transform:scaleX(0.8868);-webkit-text-stroke:.3px;">C&amp;I: LOC</span>
<span class="t" style="left:580.80px;top:746px;font-size:10.0px;font-weight:400;color:#222;transform:scaleX(0.9738);-webkit-text-stroke:.3px;">9.50% Variable</span>
<span class="t" style="left:709.02px;top:746px;font-size:10.0px;font-weight:400;color:#222;transform:scaleX(0.9411);-webkit-text-stroke:.3px;">$12,000,000</span>
<span class="t" style="left:821.42px;top:746px;font-size:10.0px;font-weight:400;color:#222;transform:scaleX(0.9411);-webkit-text-stroke:.3px;">$12,000,000</span>
<span class="t" style="left:925.77px;top:746px;font-size:10.0px;font-weight:400;color:#222;transform:scaleX(0.9541);-webkit-text-stroke:.3px;text-decoration:underline;text-underline-offset:1px;">View</span>
<div class="pg" style="left:440px"></div>
<div class="pg on" style="left:469.400px"></div>
<div class="pg" style="left:498.800px"></div>
<div class="pg" style="left:528.200px"></div>
<div class="pg" style="left:557.600px"></div>
<div class="pg" style="left:587px"></div>
<div class="pg" style="left:616.400px"></div>
<span class="t" style="left:450.10px;top:796px;font-size:10.6px;font-weight:700;color:#333;transform:scaleX(0.7000);">1</span>
<span class="t" style="left:478.85px;top:796px;font-size:10.6px;font-weight:700;color:#fff;transform:scaleX(0.9167);">2</span>
<span class="t" style="left:508.25px;top:796px;font-size:10.6px;font-weight:700;color:#333;transform:scaleX(0.9167);">3</span>
<span class="t" style="left:537.65px;top:796px;font-size:10.6px;font-weight:700;color:#333;transform:scaleX(0.9167);">4</span>
<span class="t" style="left:567.05px;top:796px;font-size:10.6px;font-weight:700;color:#333;transform:scaleX(0.9167);">5</span>
<span class="t" style="left:595.60px;top:796px;font-size:10.6px;font-weight:700;color:#333;transform:scaleX(0.8102);">...</span>
<span class="t" style="left:623.25px;top:796px;font-size:10.6px;font-weight:700;color:#333;transform:scaleX(0.8998);">20</span>

</div>
</body>
</html>
